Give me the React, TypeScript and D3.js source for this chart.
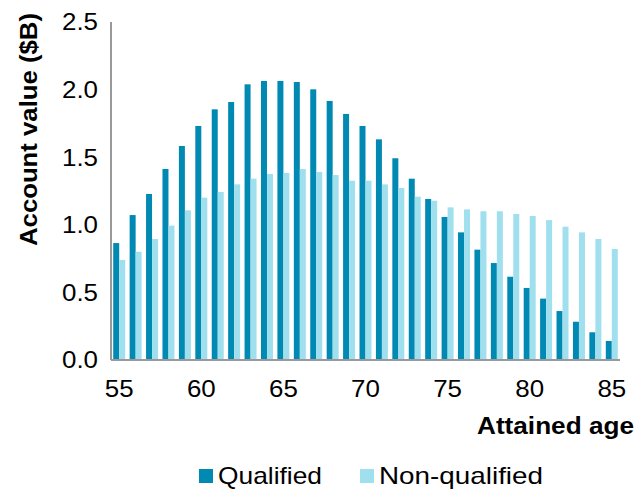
import React from "react";
import * as d3 from "d3";

const ages: number[] = d3.range(55, 86);
const qualified: number[] = [
  0.865, 1.072, 1.228, 1.413, 1.583, 1.731, 1.854, 1.908, 2.039, 2.064, 2.064,
  2.056, 2.002, 1.916, 1.82, 1.731, 1.632, 1.492, 1.341, 1.191, 1.058, 0.944,
  0.816, 0.717, 0.616, 0.533, 0.454, 0.362, 0.283, 0.205, 0.141,
];
const nonQualified: number[] = [
  0.74, 0.801, 0.895, 0.994, 1.107, 1.201, 1.243, 1.299, 1.341, 1.376, 1.383,
  1.413, 1.391, 1.368, 1.326, 1.326, 1.299, 1.272, 1.208, 1.178, 1.129, 1.114,
  1.1, 1.1, 1.08, 1.065, 1.035, 0.986, 0.944, 0.895, 0.821,
];
const yTicks: number[] = [0, 0.5, 1, 1.5, 2, 2.5];
const xTickAges: number[] = [55, 60, 65, 70, 75, 80, 85];
const seriesNames: string[] = ["Qualified", "Non-qualified"];
const colors: string[] = ["#0089B3", "#A0E0EE"];

const W = 637;
const H = 491;
const left = 111;
const right = 620;
const top = 22;
const bottom = 360;
const font = "'Liberation Sans', Arial, sans-serif";
const fs = 24;

export default function App() {
  const x = d3
    .scaleBand<number>()
    .domain(ages)
    .range([left, right])
    .paddingInner(0.27)
    .paddingOuter(0.135);
  const sub = d3
    .scaleBand<number>()
    .domain([0, 1])
    .range([0, x.bandwidth()]);
  const y = d3.scaleLinear().domain([0, 2.5]).range([bottom, top]);
  const series = [qualified, nonQualified];

  return (
    <svg
      width={W}
      height={H}
      style={{ position: "absolute", left: 0, top: 0, background: "#fff" }}
      fontFamily={font}
    >
      {series.map((vals, si) =>
        vals.map((v, i) => (
          <rect
            key={`${si}-${i}`}
            x={(x(ages[i]) as number) + (sub(si) as number)}
            y={y(v)}
            width={sub.bandwidth()}
            height={y(0) - y(v)}
            fill={colors[si]}
          />
        ))
      )}
      <line x1={left} x2={left} y1={y(2.5)} y2={y(0)} stroke="#999" strokeWidth={2} />
      <line x1={left} x2={right} y1={y(0)} y2={y(0)} stroke="#999" strokeWidth={2} />
      {yTicks.map((t) => (
        <text
          key={t}
          transform={`translate(98,${y(t)}) scale(1.08,1)`}
          dy="0.35em"
          textAnchor="end"
          fontSize={fs}
          fill="#000"
        >
          {d3.format(".1f")(t)}
        </text>
      ))}
      {xTickAges.map((a) => (
        <text
          key={a}
          transform={`translate(${(x(a) as number) + x.bandwidth() / 2},397) scale(1.08,1)`}
          textAnchor="middle"
          fontSize={fs}
          fill="#000"
        >
          {a}
        </text>
      ))}
      <text
        x={477}
        y={434}
        fontSize={fs}
        fontWeight="bold"
        textLength={157}
        lengthAdjust="spacingAndGlyphs"
      >
        Attained age
      </text>
      <text
        transform={`translate(37,246) rotate(-90)`}
        fontSize={fs}
        fontWeight="bold"
        textLength={233}
        lengthAdjust="spacingAndGlyphs"
      >
        Account value ($B)
      </text>
      {seriesNames.map((n, i) => {
        const lx = [199, 360][i];
        const tl = [104, 164][i];
        return (
          <g key={n}>
            <rect x={lx} y={469} width={14} height={14} fill={colors[i]} />
            <text
              x={lx + 19}
              y={484}
              fontSize={fs}
              textLength={tl}
              lengthAdjust="spacingAndGlyphs"
            >
              {n}
            </text>
          </g>
        );
      })}
    </svg>
  );
}
